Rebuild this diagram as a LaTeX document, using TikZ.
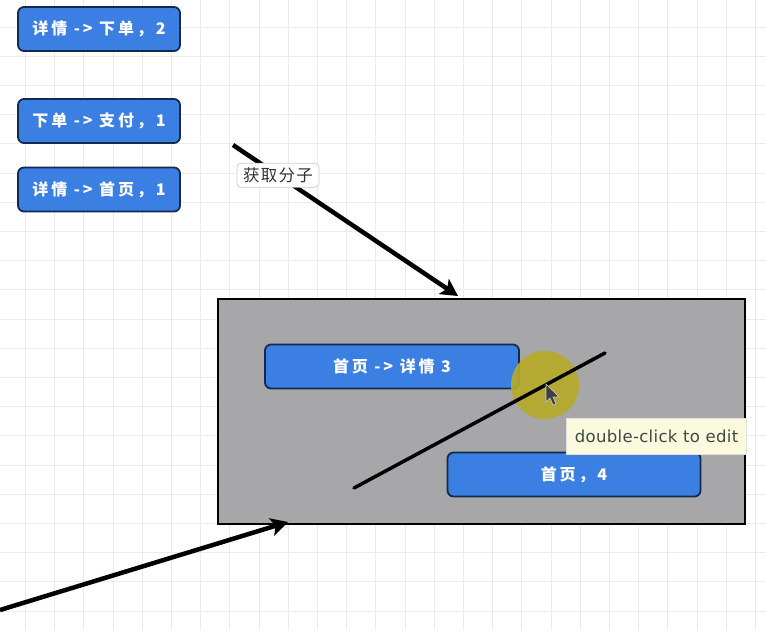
\documentclass[tikz,border=0pt]{standalone}
\usepackage{fontspec}
\setmainfont{DejaVu Sans}
\newfontfamily\cjk{Noto Sans CJK SC}
\usetikzlibrary{arrows.meta}

\definecolor{flowblue}{HTML}{3B7FE2}
\definecolor{flowedge}{HTML}{142A4C}
\definecolor{panelgray}{HTML}{A7A6A9}
\definecolor{gridgray}{HTML}{EBEBEB}
\definecolor{hilite}{HTML}{B5AA2A}
\definecolor{tipyellow}{HTML}{FBFADF}
\definecolor{tiptext}{HTML}{3E4A40}

\tikzset{
  stepbox/.style={draw=flowedge, line width=1.8pt, fill=flowblue, rounded corners=6pt,
    text=white, font=\cjk\bfseries\addfontfeatures{LetterSpace=18}\fontsize{16}{16}\selectfont,
    minimum width=162pt, minimum height=44pt, inner sep=0pt},
  widebox/.style={stepbox, minimum width=254pt},
  flowarrow/.style={line width=4.5pt, -{Stealth[length=17pt,width=18pt,inset=4pt]}},
}

\begin{document}
\begin{tikzpicture}[x=1pt,y=-1pt]
        \useasboundingbox (0,0) rectangle (766,630);
        \fill[white] (0,0) rectangle (766,630);

        % background grid
        \begin{scope}[gridgray, line width=0.8pt]
            \foreach \i in {0,...,26}
                \draw ({-3.8+29.2*\i},0) -- ({-3.8+29.2*\i},630);
            \foreach \j in {0,...,22}
                \draw (0,{-2.2+29.2*\j}) -- (766,{-2.2+29.2*\j});
        \end{scope}

        \node[stepbox] (detailorder) at (99,29) {详情 -> 下单，2};
        \node[stepbox] (orderpay) at (99,121) {下单 -> 支付，1};
        \node[stepbox] (detailhome) at (99,189.5) {详情 -> 首页，1};

        % the gray panel
        \node[draw, line width=2.5pt, fill=panelgray, inner sep=0pt,
              minimum width=527pt, minimum height=225pt] (panel) at (481.5,411.5) {};

        \node[widebox] (homedetail) at (392,366.5) {首页 -> 详情 3};
        \node[widebox, minimum width=253pt, minimum height=44pt] (homefour) at (574,474.5) {首页，4};

        \coordinate (fetchtail) at (233,145);
        \coordinate (fetchhead) at (458,296);
        \coordinate (entrytail) at (0,610);
        \coordinate (entryhead) at (288,522);
        \coordinate (cutstart) at (354,488);
        \coordinate (cutend) at (605,353);

        \draw[flowarrow] (fetchtail) -- (fetchhead)
            node[pos=0.2, fill=white, draw=black!20, line width=0.7pt, rounded corners=4pt,
                 minimum width=82pt, minimum height=24pt, inner sep=0pt, text=black!80,
                 font=\cjk\addfontfeatures{LetterSpace=8}\fontsize{16.5}{16.5}\selectfont] (fetchlabel) {获取分子};
        \draw[flowarrow] (entrytail) -- (entryhead);

        % hover spot and cursor
        \fill[hilite, opacity=0.92] (545,385) circle (34);
        \draw[line width=3.5pt, line cap=round] (cutstart) -- (cutend);
        \draw[fill=black!75, draw=white!80!black, line width=0.6pt]
            (546,384) -- (546,402) -- (550,398) -- (553,405) -- (556,404) -- (553,397) -- (559,397) -- cycle;

        \node[fill=tipyellow, draw=black!12, inner sep=0pt, minimum width=180pt, minimum height=36pt,
              text=tiptext, font=\addfontfeatures{LetterSpace=2}\fontsize{16.5}{16.5}\selectfont] (edittip) at (656.5,436.5) {double-click to edit};

    \end{tikzpicture}
\end{document}
